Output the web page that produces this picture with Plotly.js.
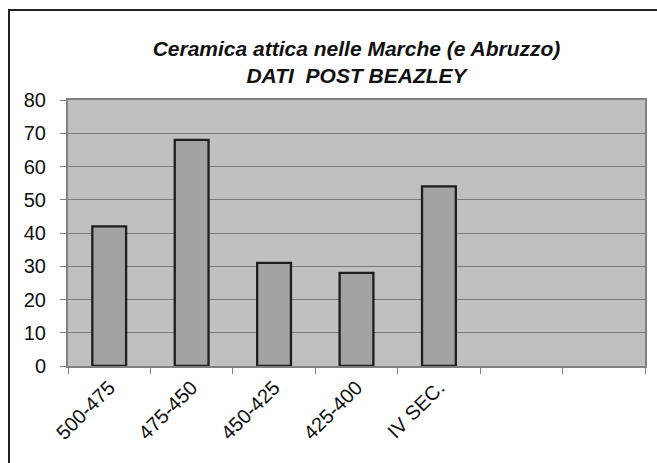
<!DOCTYPE html>
<html>
<head>
<meta charset="utf-8">
<script src="https://cdn.plot.ly/plotly-3.0.1.min.js"></script>
<style>
  html, body { margin: 0; padding: 0; background: #fff; }
  #wrap { position: relative; width: 657px; height: 463px; overflow: hidden; }
  #frame { position: absolute; left: 8px; top: 9px; width: 700px; height: 500px; border-left: 2px solid #222; border-top: 2px solid #222; pointer-events: none; }
  #chart { position: absolute; left: 0; top: 0; width: 657px; height: 463px; }
</style>
</head>
<body>
<div id="wrap">
  <div id="chart"></div>
  <div id="frame"></div>
</div>
<script>
const categories = ['500-475', '475-450', '450-425', '425-400', 'IV SEC.', ' ', '  '];
const values = [42, 68, 31, 28, 54, null, null];
const yTicks = [0, 10, 20, 30, 40, 50, 60, 70, 80];

const trace = {
  type: 'bar',
  x: categories,
  y: values,
  marker: { color: '#a3a3a3', line: { color: '#1e1e1e', width: 2.3 } },
  hoverinfo: 'x+y'
};

const layout = {
  width: 657,
  height: 463,
  margin: { l: 68, r: 12, t: 100, b: 97 },
  paper_bgcolor: 'rgba(0,0,0,0)',
  plot_bgcolor: '#c0c0c0',
  font: { family: 'Liberation Sans, Arial, sans-serif', color: '#111', size: 20 },
  title: {
    text: '<b><i>Ceramica attica nelle Marche (e Abruzzo)<br>DATI  POST BEAZLEY</i></b>',
    font: { family: 'Liberation Sans, Arial, sans-serif', size: 21, color: '#111' },
    xref: 'paper', x: 0.5, xanchor: 'center',
    yref: 'container', y: 1 - 56 / 463, yanchor: 'middle'
  },
  bargap: 0.59,
  showlegend: false,
  xaxis: {
    type: 'category',
    categoryorder: 'array',
    categoryarray: categories,
    tickson: 'boundaries',
    ticks: 'outside', ticklen: 6, tickcolor: '#808080', tickwidth: 1,
    tickangle: -45,
    showline: true, linecolor: '#808080', linewidth: 2, mirror: true,
    showgrid: false,
    tickfont: { size: 20, color: '#111' },
    fixedrange: true
  },
  yaxis: {
    range: [0, 80],
    tickvals: yTicks,
    ticks: 'outside', ticklen: 6, tickcolor: '#808080', tickwidth: 1,
    ticklabelstandoff: 10,
    showline: true, linecolor: '#808080', linewidth: 2, mirror: true,
    gridcolor: '#7a7a7a', gridwidth: 1,
    zeroline: false,
    tickfont: { size: 20, color: '#111' },
    fixedrange: true
  }
};

Plotly.newPlot('chart', [trace], layout, { displayModeBar: false, staticPlot: true });
</script>
</body>
</html>
